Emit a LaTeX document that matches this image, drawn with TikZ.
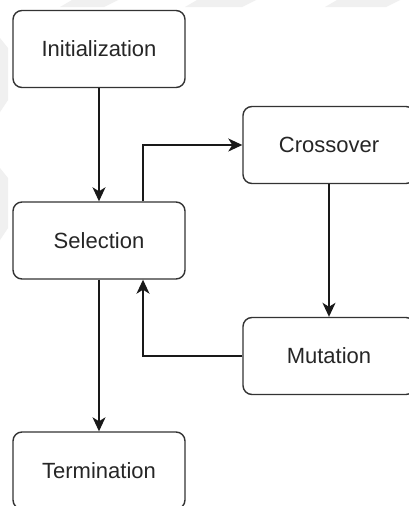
\documentclass[tikz,border=0pt]{standalone}
\usepackage{fontspec}
\setmainfont{Liberation Sans}
\usetikzlibrary{arrows.meta}
\begin{document}
\begin{tikzpicture}[x=1pt,y=-1pt,
  box/.style={draw=black!80, line width=1.4pt, rounded corners=9pt, fill=white,
    minimum width=172pt, minimum height=77pt, inner sep=0pt, text=black!85,
    font=\fontsize{22}{26}\selectfont},
  arr/.style={draw=black!90, line width=1.5pt, -{Stealth[length=14pt,width=13pt,inset=4pt]}},
  wm/.style={fill=black!6, draw=none}]
\useasboundingbox (0,0) rectangle (409,506);
\clip (0,0) rectangle (409,506);
\fill[white] (0,0) rectangle (409,506);
% faint watermark bands
\fill[wm] (60,7) -- (72,0) -- (118,0) -- (104,7) -- cycle;
\fill[wm] (185,7) -- (197,0) -- (256,0) -- (242,7) -- cycle;
\fill[wm] (325,7) -- (337,0) -- (400,0) -- (386,7) -- cycle;
\fill[wm] (0,38) -- (8,48) -- (8,100) -- (0,112) -- cycle;
\fill[wm] (0,168) -- (8,178) -- (8,228) -- (0,240) -- cycle;
% nodes
\node[box] (init)  at (99,49)    {Initialization};
\node[box] (sel)   at (99,240.5) {Selection};
\node[box] (term)  at (99,470.5) {Termination};
\node[box] (cross) at (329,145)  {Crossover};
\node[box] (mut)   at (329,356)  {Mutation};
% connectors
\draw[arr] (init) -- (sel);
\draw[arr] ([xshift=44pt]sel.north) |- (cross.west);
\draw[arr] (cross) -- (mut);
\draw[arr] (mut.west) -| ([xshift=44pt]sel.south);
\draw[arr] (sel) -- (term);
\end{tikzpicture}
\end{document}
